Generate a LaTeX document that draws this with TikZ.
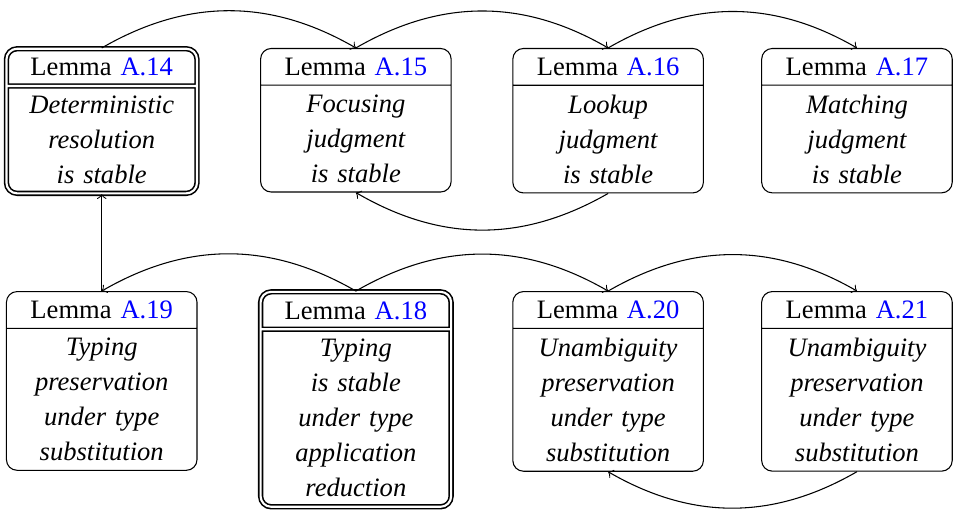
\documentclass[tikz,border=0pt]{standalone}
\usepackage{fontspec}
\setmainfont{Liberation Serif}
\usetikzlibrary{shapes.multipart}
\newcommand{\lemmaref}[1]{Lemma \textcolor{blue}{#1}}

\begin{document}
\begin{tikzpicture}[x=1mm,y=1mm,line width=.4pt,
  font=\fontsize{10}{13.2}\selectfont,
  lemma/.style={rectangle split,rectangle split parts=2,draw,
    rounded corners,text width=22.85mm,align=center,anchor=north},
  keylemma/.style={lemma,double,line width=.6pt,double distance=.8pt}]
  \useasboundingbox (0,0) rectangle (126,67.3);
  % upper row
  \node[keylemma] (l14) at (13.45,60.96)
    {\lemmaref{A.14}\nodepart{two}\itshape Deterministic\\resolution\\is stable};
  \node[lemma] (l15) at (47.05,60.96)
    {\lemmaref{A.15}\nodepart{two}\itshape Focusing\\judgment\\is stable};
  \node[lemma] (l16) at (80.4,60.96)
    {\lemmaref{A.16}\nodepart{two}\itshape Lookup\\judgment\\is stable};
  \node[lemma] (l17) at (113.3,60.96)
    {\lemmaref{A.17}\nodepart{two}\itshape Matching\\judgment\\is stable};
  % lower row
  \node[lemma] (l19) at (13.45,28.82)
    {\lemmaref{A.19}\nodepart{two}\itshape Typing\\preservation\\under type\\substitution};
  \node[keylemma] (l18) at (47.05,28.82)
    {\lemmaref{A.18}\nodepart{two}\itshape Typing\\is stable\\under type\\application\\reduction};
  \node[lemma] (l20) at (80.4,28.82)
    {\lemmaref{A.20}\nodepart{two}\itshape Unambiguity\\preservation\\under type\\substitution};
  \node[lemma] (l21) at (113.3,28.82)
    {\lemmaref{A.21}\nodepart{two}\itshape Unambiguity\\preservation\\under type\\substitution};
  % dependencies
  \draw[->] (l14.north) to[bend left] (l15.north);
  \draw[->] (l15.north) to[bend left] (l16.north);
  \draw[->] (l16.north) to[bend left] (l17.north);
  \draw[->] (l16.south) to[bend left] (l15.south);
  \draw[->] (l19.north) -- (l14.south);
  \draw[->] (l18.north) to[bend right] (l19.north);
  \draw[->] (l18.north) to[bend left] (l20.north);
  \draw[->] (l20.north) to[bend left] (l21.north);
  \draw[->] (l21.south) to[bend left] (l20.south);
\end{tikzpicture}
\end{document}
